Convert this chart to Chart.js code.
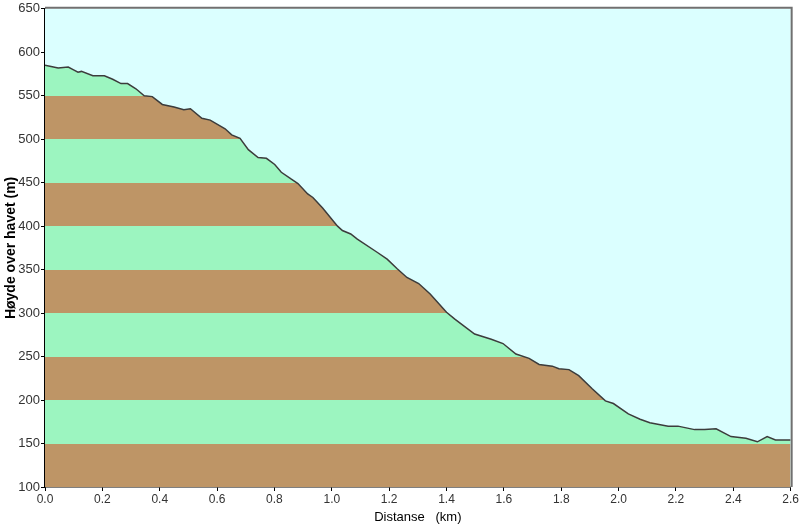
<!DOCTYPE html>
<html>
<head>
<meta charset="utf-8">
<script src="https://cdn.jsdelivr.net/npm/chart.js@4/dist/chart.umd.min.js"></script>
<style>
  html, body { margin: 0; padding: 0; background: #fff; }
  #wrap { width: 800px; height: 525px; }
</style>
</head>
<body>
<div id="wrap"><canvas id="profile" width="800" height="525"></canvas></div>
<script>
// distance along route (km) and height above sea level (m)
const distKm = [
    0.000, 0.017, 0.046, 0.081, 0.098, 0.115, 0.127, 0.167, 0.207, 0.236,
    0.265, 0.288, 0.317, 0.346, 0.374, 0.409, 0.450, 0.484, 0.507, 0.547,
    0.576, 0.628, 0.651, 0.680, 0.709, 0.743, 0.772, 0.801, 0.824, 0.859,
    0.882, 0.916, 0.934, 0.968, 1.020, 1.037, 1.066, 1.089, 1.158, 1.193,
    1.228, 1.262, 1.303, 1.343, 1.400, 1.429, 1.498, 1.556, 1.597, 1.642,
    1.688, 1.723, 1.769, 1.792, 1.827, 1.861, 1.908, 1.954, 1.982, 2.034,
    2.075, 2.109, 2.173, 2.207, 2.265, 2.300, 2.340, 2.392, 2.444, 2.484,
    2.518, 2.547, 2.600
]
const heightM = [
    585, 584, 582, 583, 580, 577, 578, 573, 573, 569,
    564, 564, 558, 550, 549, 540, 537, 534, 535, 524,
    522, 512, 505, 501, 488, 479, 478, 471, 462, 454,
    449, 437, 433, 421, 400, 395, 391, 385, 370, 362,
    351, 341, 334, 322, 301, 293, 276, 270, 265, 253,
    248, 241, 239, 236, 235, 228, 213, 199, 196, 184,
    178, 174, 170, 170, 166, 166, 167, 158, 156, 152,
    158, 154, 154
]
// height bands below the profile, every 50 m
const bandEdges = [100, 150, 200, 250, 300, 350, 400, 450, 500, 550, 600, 650]
const bandColors = ['#be9566', '#9cf5c0']

const sky = '#dbffff'

const bandFill = (context) => {
    const chart = context.chart
    const yScale = chart.scales.y
    if (!chart.chartArea || !yScale) return bandColors[1]
    const y0 = yScale.getPixelForValue(bandEdges[0])
    const y1 = yScale.getPixelForValue(bandEdges[bandEdges.length - 1])
    const grad = chart.ctx.createLinearGradient(0, y0, 0, y1)
    const span = bandEdges[bandEdges.length - 1] - bandEdges[0]
    for (let i = 0; i < bandEdges.length - 1; i++) {
        const c = bandColors[i % 2]
        grad.addColorStop((bandEdges[i] - bandEdges[0]) / span, c)
        grad.addColorStop((bandEdges[i + 1] - bandEdges[0]) / span, c)
    }
    return grad
}

const frame = {
    id: 'frame',
    beforeDatasetsDraw(chart) {
        const {ctx, chartArea: a} = chart
        ctx.save()
        ctx.fillStyle = sky
        ctx.fillRect(a.left, a.top, a.right - a.left, a.bottom - a.top)
        ctx.restore()
    },
    afterDraw(chart) {
        const {ctx, chartArea: a} = chart
        ctx.save()
        ctx.strokeStyle = '#707070'
        ctx.lineWidth = 2
        ctx.beginPath()
        ctx.moveTo(a.left, a.top - 1)
        ctx.lineTo(a.right + 1, a.top - 1)
        ctx.lineTo(a.right + 1, a.bottom)
        ctx.stroke()
        ctx.restore()
    }
}

Chart.defaults.font.family = '"Liberation Sans", Arial, sans-serif'
Chart.defaults.font.size = 12
Chart.defaults.color = '#333'

new Chart(document.getElementById('profile').getContext('2d'), {
    type: 'line',
    data: {
        datasets: [{
            data: distKm.map((d, i) => ({x: d, y: heightM[i]})),
            borderColor: '#3c3c3c',
            borderWidth: 1.5,
            pointRadius: 0,
            tension: 0,
            fill: 'start',
            backgroundColor: bandFill,
        }],
    },
    options: {
        responsive: false,
        animation: false,
        layout: {padding: {top: 8, right: 3, left: 0, bottom: 0}},
        plugins: {
            legend: {display: false},
            tooltip: {enabled: false},
        },
        scales: {
            x: {
                type: 'linear',
                min: 0,
                max: 2.6,
                ticks: {stepSize: 0.2, padding: 1, maxRotation: 0, callback: v => v.toFixed(1)},
                grid: {drawOnChartArea: false, tickLength: 4, color: '#000'},
                border: {color: '#000', width: 1.5},
                title: {display: true, text: 'Distanse   (km)', color: '#000', font: {size: 13}, padding: {top: 0, bottom: 0}},
                afterFit: axis => { axis.height = 38 },
            },
            y: {
                min: 100,
                max: 650,
                ticks: {stepSize: 50, padding: 1, font: {size: 13}},
                grid: {drawOnChartArea: false, tickLength: 4, color: '#000'},
                border: {color: '#000', width: 1.5},
                title: {display: true, text: 'Høyde over havet (m)', color: '#000', font: {size: 14, weight: 'bold'}, padding: {top: 3, bottom: 0}},
                afterFit: axis => { axis.width = 45 },
            },
        },
    },
    plugins: [frame],
})
</script>
</body>
</html>
